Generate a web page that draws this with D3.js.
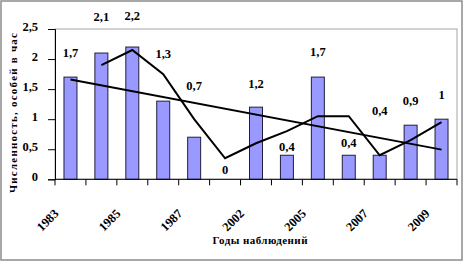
<!DOCTYPE html>
<html>
<head>
<meta charset="utf-8">
<script src="https://cdn.jsdelivr.net/npm/d3@7"></script>
<style>
  html, body { margin: 0; padding: 0; background: #fff; }
  svg { display: block; }
  svg text { font-family: "Liberation Serif", "Times New Roman", "DejaVu Serif", serif !important; font-weight: bold !important; fill: #000; }
</style>
</head>
<body>
<svg id="chart" width="465" height="261"></svg>
<script>
// ---- data ----
const categories = ["1983","1984","1985","1986","1987","1990","2002","2004","2005","2006","2007","2008","2009"];
const values     = [1.7, 2.1, 2.2, 1.3, 0.7, 0, 1.2, 0.4, 1.7, 0.4, 0.4, 0.9, 1.0];
const shownTickLabels = ["1983","1985","1987","2002","2005","2007","2009"];
const yTicks = [0, 0.5, 1, 1.5, 2, 2.5];
const yTitle = "Численность, особей в час";
const xTitle = "Годы наблюдений";

// ---- layout ----
const plot = { left: 55, right: 457, top: 29, bottom: 179.3 };
// vertical nudges of data labels (px above bar top), as placed in the original
const labelLift = [24, 36, 31, 48, 52, 10, 24, 9, 25, 13, 45, 25, 25];

const svg = d3.select("#chart");
const fmt = v => String(v).replace(".", ",");

// chart area border
svg.append("rect").attr("x", 1).attr("y", 1).attr("width", 461).attr("height", 259)
  .attr("fill", "#fff").attr("stroke", "#8c8c8c").attr("stroke-width", 1.5);

const x = d3.scaleBand().domain(categories).range([plot.left, plot.right])
  .paddingInner(0.58).paddingOuter(0.29);
const y = d3.scaleLinear().domain([0, 2.5]).range([plot.bottom, plot.top]);

// plot area border
svg.append("rect").attr("x", plot.left).attr("y", plot.top)
  .attr("width", plot.right - plot.left).attr("height", plot.bottom - plot.top)
  .attr("fill", "none").attr("stroke", "#a6a6a6").attr("stroke-width", 1);

// bars
svg.append("g").selectAll("rect").data(values).join("rect")
  .attr("x", (d, i) => x(categories[i]))
  .attr("y", d => y(d))
  .attr("width", x.bandwidth())
  .attr("height", d => y(0) - y(d))
  .attr("fill", "#9999ff")
  .attr("stroke", "#1f1f3a")
  .attr("stroke-width", 1);

const cx = i => x(categories[i]) + x.bandwidth() / 2;

// linear trend (least squares, as Excel trendline)
const n = values.length;
const xm = d3.mean(values, (d, i) => i), ym = d3.mean(values);
const slope = d3.sum(values, (d, i) => (i - xm) * (d - ym)) / d3.sum(values, (d, i) => (i - xm) ** 2);
const icpt = ym - slope * xm;
svg.append("line")
  .attr("x1", cx(0)).attr("y1", y(icpt))
  .attr("x2", cx(n - 1)).attr("y2", y(icpt + slope * (n - 1)))
  .attr("stroke", "#000").attr("stroke-width", 2);

// 2-period moving average trendline
const ma = values.slice(1).map((d, k) => ({ i: k + 1, v: (values[k] + d) / 2 }));
svg.append("path").datum(ma)
  .attr("d", d3.line().x(d => cx(d.i)).y(d => y(d.v)))
  .attr("fill", "none").attr("stroke", "#000").attr("stroke-width", 2);

// y axis
const yAxis = d3.axisLeft(y).tickValues(yTicks).tickSize(7).tickFormat(fmt);
const gy = svg.append("g").attr("transform", `translate(${plot.left},0)`).call(yAxis);
gy.select(".domain").attr("stroke", "#000");
gy.selectAll(".tick line").attr("stroke", "#000");
gy.selectAll(".tick text").attr("font-size", 12.5).attr("x", -17).attr("dy", "0.1em");

// x axis (ticks at category boundaries)
svg.append("line").attr("x1", plot.left).attr("x2", plot.right)
  .attr("y1", plot.bottom).attr("y2", plot.bottom).attr("stroke", "#000");
const bounds = d3.range(n + 1).map(k => plot.left + k * x.step());
svg.append("g").selectAll("line").data(bounds).join("line")
  .attr("x1", d => d).attr("x2", d => d)
  .attr("y1", plot.bottom).attr("y2", plot.bottom + 6)
  .attr("stroke", "#000");

svg.append("g").selectAll("text").data(categories.filter(c => shownTickLabels.includes(c))).join("text")
  .attr("transform", c => `translate(${x(c) + x.bandwidth() / 2 - 11},${plot.bottom + 35}) rotate(-45)`)
  .attr("text-anchor", "end")
  .attr("font-size", 12.5)
  .text(c => c);

// data labels
svg.append("g").selectAll("text").data(values).join("text")
  .attr("x", (d, i) => cx(i))
  .attr("y", (d, i) => y(d) - labelLift[i])
  .attr("dy", "0.35em")
  .attr("text-anchor", "middle")
  .attr("font-size", 12.5)
  .text(d => fmt(d));

// axis titles
svg.append("text")
  .attr("transform", "translate(17,113) rotate(-90)")
  .attr("text-anchor", "middle")
  .attr("font-size", 11)
  .attr("textLength", 160).attr("lengthAdjust", "spacing")
  .text(yTitle);

svg.append("text")
  .attr("x", 260).attr("y", 244)
  .attr("text-anchor", "middle")
  .attr("font-size", 11)
  .attr("textLength", 95).attr("lengthAdjust", "spacing")
  .text(xTitle);
</script>
</body>
</html>
